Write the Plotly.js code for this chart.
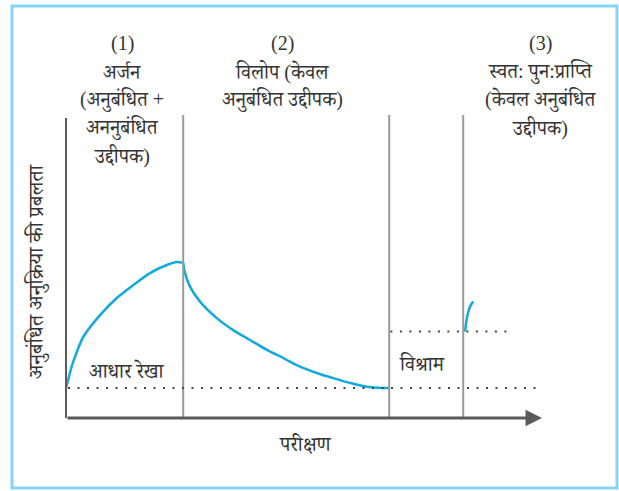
<!DOCTYPE html>
<html>
<head>
<meta charset="utf-8">
<script src="https://cdn.plot.ly/plotly-3.0.1.min.js"></script>
<style>html,body{margin:0;padding:0;background:#fff;}#chart{width:619px;height:491px;}</style>
</head>
<body>
<div id="chart"></div>
<script>
// ---- data (trials on x, strength of conditioned response on y) ----
const acquisitionX = [0, 0.06, 0.15, 0.27, 0.43, 0.85, 1.27, 1.68, 2.1, 2.52, 2.77, 2.93];
const acquisitionY = [1.0, 1.3, 1.75, 2.2, 2.7, 3.43, 4.0, 4.43, 4.83, 5.1, 5.2, 5.17];
const extinctionX = [2.93, 2.975, 3.1, 3.35, 3.77, 4.18, 4.6, 5.02, 5.43, 5.85, 6.27, 6.68, 7.1, 7.52, 7.93, 8.07];
const extinctionY = [5.18, 4.83, 4.38, 3.88, 3.33, 2.93, 2.6, 2.27, 2.0, 1.71, 1.5, 1.33, 1.17, 1.04, 1.0, 1.0];
const recoveryX = [9.975, 10.03, 10.1, 10.18];
const recoveryY = [2.88, 3.38, 3.71, 3.88];
const phaseBoundaries = [2.93, 8.08, 9.93];
const baselineLevel = 1.0;
const recoveryLevel = 2.88;

// ---- text ----
const phase1Lines = ["(1)", "अर्जन", "(अनुबंधित +", "अननुबंधित", "उद्दीपक)"];
const phase2Lines = ["(2)", "विलोप (केवल", "अनुबंधित उद्दीपक)"];
const phase3Lines = ["(3)", "स्वत: पुन:प्राप्ति", "(केवल अनुबंधित", "उद्दीपक)"];
const yTitle = "अनुबंधित अनुक्रिया की प्रबलता";
const xTitle = "परीक्षण";
const baselineLabel = "आधार रेखा";
const restLabel = "विश्राम";

const FONT = "'Liberation Serif', 'Noto Serif Devanagari', 'Noto Sans Devanagari', 'Noto Sans', serif";
const TXT = "#333333";
const CYAN = "#12a9dc";
const GREY = "#9a9a9a";
const DARK = "#5a5a5a";
const FS = 20;

const curveStyle = {color: CYAN, width: 2.5, shape: 'spline', smoothing: 0.8};
const traces = [
  {x: acquisitionX, y: acquisitionY, mode: 'lines', line: curveStyle, hoverinfo: 'skip'},
  {x: extinctionX, y: extinctionY, mode: 'lines', line: curveStyle, hoverinfo: 'skip'},
  {x: recoveryX, y: recoveryY, mode: 'lines', line: curveStyle, hoverinfo: 'skip'}
];

const shapes = [];
// outer frame
shapes.push({type: 'rect', xref: 'paper', yref: 'paper', x0: 12/619, x1: 617/619, y0: 1-488/491, y1: 1-6/491,
  line: {color: '#86d5f6', width: 3}, fillcolor: 'rgba(0,0,0,0)'});
// phase dividers
phaseBoundaries.forEach(b => shapes.push({type: 'line', xref: 'x', yref: 'y', x0: b, x1: b, y0: 0, y1: 10.1,
  line: {color: GREY, width: 2}}));
// y axis line
shapes.push({type: 'line', xref: 'x', yref: 'y', x0: 0, x1: 0, y0: 0, y1: 10.0, line: {color: DARK, width: 2}});
// baseline dotted
shapes.push({type: 'line', xref: 'x', yref: 'y', x0: 0.05, x1: 11.8, y0: baselineLevel, y1: baselineLevel,
  line: {color: '#444', width: 2, dash: '2px,7.5px'}});
// recovery level dotted
shapes.push({type: 'line', xref: 'x', yref: 'y', x0: phaseBoundaries[1] + 0.03, x1: 11.05, y0: recoveryLevel, y1: recoveryLevel,
  line: {color: '#444', width: 2, dash: '2px,7.5px'}});

const annotations = [];
const px2y = 1/30; // line step in y units
function addLines(lines, xc, yTop) {
  lines.forEach((t, i) => annotations.push({x: xc, y: yTop - i*28*px2y, xref: 'x', yref: 'y', text: t, showarrow: false,
    xanchor: 'center', yanchor: 'middle', font: {family: FONT, size: FS, color: TXT}}));
}
addLines(phase1Lines, 1.4, 12.47);
addLines(phase2Lines, 5.4, 12.47);
addLines(phase3Lines, 11.85, 12.47);

annotations.push({x: -0.72, y: 4.87, xref: 'x', yref: 'y', text: yTitle, textangle: -90, showarrow: false,
  font: {family: FONT, size: 21, color: TXT}});
annotations.push({x: 5.98, y: -0.87, xref: 'x', yref: 'y', text: xTitle, showarrow: false,
  font: {family: FONT, size: FS, color: TXT}});
annotations.push({x: 1.53, y: 1.6, xref: 'x', yref: 'y', text: baselineLabel, showarrow: false,
  font: {family: FONT, size: FS, color: TXT}});
annotations.push({x: 8.9, y: 1.83, xref: 'x', yref: 'y', text: restLabel, showarrow: false,
  font: {family: FONT, size: FS, color: TXT}});
// x axis with arrow
annotations.push({x: 11.9, y: 0, ax: 0, ay: 0, xref: 'x', yref: 'y', axref: 'x', ayref: 'y', text: '', showarrow: true,
  arrowhead: 2, arrowsize: 1.1, arrowwidth: 3, arrowcolor: DARK, standoff: 0});

const layout = {
  width: 619, height: 491,
  margin: {l: 0, r: 0, t: 0, b: 0},
  paper_bgcolor: '#ffffff', plot_bgcolor: '#ffffff',
  showlegend: false,
  xaxis: {range: [-1.65, 13.825], visible: false, fixedrange: true},
  yaxis: {range: [-2.433, 13.933], visible: false, fixedrange: true},
  shapes: shapes,
  annotations: annotations
};

Plotly.newPlot('chart', traces, layout, {displayModeBar: false, staticPlot: true});
</script>
</body>
</html>
